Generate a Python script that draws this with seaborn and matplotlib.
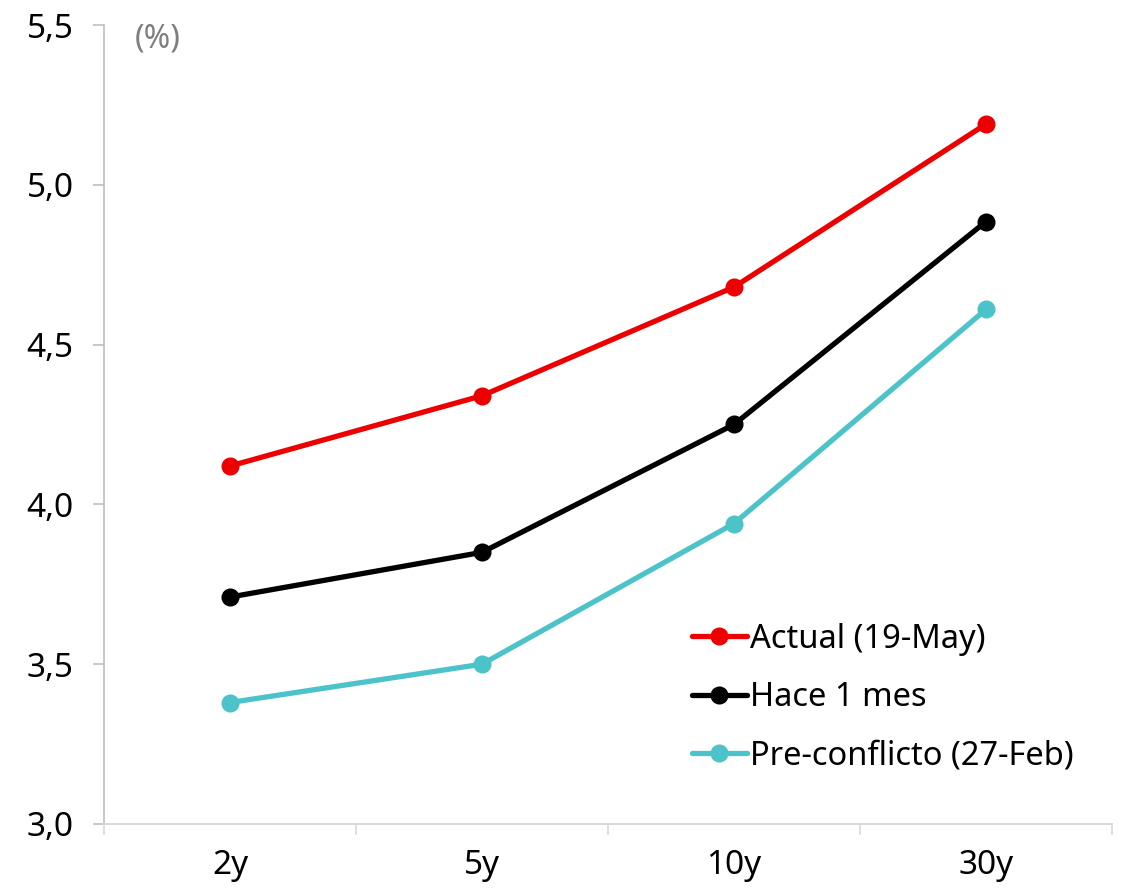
import matplotlib
matplotlib.use("Agg")
import matplotlib.pyplot as plt
import seaborn as sns
import pandas as pd
from matplotlib.ticker import FuncFormatter, FixedLocator

tenors = ["2y", "5y", "10y", "30y"]
actual = [4.12, 4.34, 4.68, 5.19]
hace_1_mes = [3.71, 3.85, 4.25, 4.885]
pre_conflicto = [3.38, 3.50, 3.94, 4.61]
series_names = ["Actual (19-May)", "Hace 1 mes", "Pre-conflicto (27-Feb)"]
colors = ["#ec0000", "#000000", "#4cc3c8"]

rows = []
for name, vals in zip(series_names, [actual, hace_1_mes, pre_conflicto]):
    for t, v in zip(tenors, vals):
        rows.append({"tenor": t, "value": v, "serie": name})
df = pd.DataFrame(rows)

sns.set_style("white")
plt.rcParams['font.family'] = ['Noto Sans', 'DejaVu Sans']
plt.rcParams['text.color'] = 'black'

fig = plt.figure(figsize=(11.27, 8.9), dpi=100)
ax = fig.add_axes([0.0923, 0.0742, 0.8944, 0.8977])

sns.lineplot(data=df, x="tenor", y="value", hue="serie", palette=colors,
             hue_order=series_names, sort=False, marker="o", markersize=13,
             markeredgewidth=0, linewidth=3.8, ax=ax, legend=True)

ax.set_xlim(-0.5, 3.5)
ax.set_ylim(3.0, 5.5)
ax.set_yticks([3.0, 3.5, 4.0, 4.5, 5.0, 5.5])
ax.yaxis.set_major_formatter(FuncFormatter(lambda v, p: f"{v:.1f}".replace(".", ",")))
ax.set_xticks(range(len(tenors)))
ax.set_xticklabels(tenors)
ax.xaxis.set_minor_locator(FixedLocator([-0.5, 0.5, 1.5, 2.5, 3.5]))
ax.tick_params(axis="x", which="major", bottom=True, length=0, labelsize=24, pad=18,
               labelcolor="black")
ax.tick_params(axis="x", which="minor", bottom=True, length=8, width=1.2,
               color="#d9d9d9", direction="out")
ax.tick_params(axis="y", which="major", left=True, length=8, width=1.2, color="#bfbfbf",
               labelsize=24, pad=14, direction="out", labelcolor="black")
ax.set_xlabel("")
ax.set_ylabel("")

for s in ["top", "right"]:
    ax.spines[s].set_visible(False)
ax.spines["left"].set_color("#bfbfbf")
ax.spines["left"].set_linewidth(1.2)
ax.spines["bottom"].set_color("#d9d9d9")
ax.spines["bottom"].set_linewidth(1.5)

ax.text(0.030, 1.003, "(%)", transform=ax.transAxes, fontsize=23, color="#7f7f7f",
        ha="left", va="top")

leg = ax.legend(loc="upper left", bbox_to_anchor=(0.570, 0.268), frameon=False,
                fontsize=23.5, handlelength=1.7, handletextpad=0.1, labelspacing=0.78,
                borderaxespad=0)
for h in leg.legend_handles:
    h.set_linewidth(3.8)
    h.set_markersize(13)
for t in leg.get_texts():
    t.set_color("black")

fig.savefig("out.png", dpi=100)
